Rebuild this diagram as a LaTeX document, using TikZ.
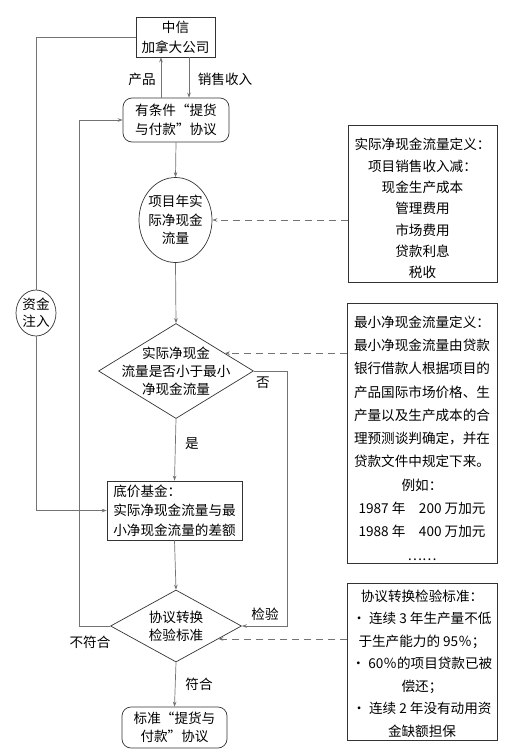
\documentclass[tikz,border=0pt]{standalone}
\usepackage{fontspec}
\setmainfont{Noto Sans CJK SC}
\usetikzlibrary{shapes.geometric,arrows.meta}
\tikzset{
  box/.style={draw=black!80, line width=0.7pt, inner sep=0pt, align=center},
  conn/.style={draw=black!55, line width=0.7pt},
  arr/.style={conn, -{Stealth[length=5pt,width=3.6pt]}},
  dashconn/.style={arr, dash pattern=on 7pt off 5pt},
  lbl/.style={inner sep=0pt},
  f/.style={font=\fontsize{13.6}{#1}\selectfont}
}
\begin{document}
\begin{tikzpicture}[x=1pt,y=-1pt,f=19]
\useasboundingbox (0,0) rectangle (511,750);

% main chain
\node[box, f=20, minimum width=79, minimum height=40] (citic) at (175.5,37) {中信\\加拿大公司};
\node[box, f=19, rounded corners=9pt, minimum width=106, minimum height=44] (agree1) at (176,120) {有条件“提货\\与付款”协议};
\node[draw=black!80, line width=0.7pt, ellipse, minimum width=73, minimum height=85, inner sep=0pt] (circ) at (175.5,220) {};
\node[lbl, f=18.5, align=center] (circt) at (circ) {项目年实\\际净现金\\流量};
\node[draw=black!80, line width=0.7pt, diamond, minimum width=155, minimum height=95, inner sep=0pt] (d1) at (176,371) {};
\node[lbl, f=18, align=center] (d1t) at (d1) {实际净现金\\流量是否小于最小\\净现金流量};
\node[box, f=19.5, align=left, minimum width=135, minimum height=59] (floor) at (174.5,510.5) {底价基金：\\实际净现金流量与最\\小净现金流量的差额};
\node[draw=black!80, line width=0.7pt, diamond, minimum width=131, minimum height=72, inner sep=0pt] (d2) at (176,626) {};
\node[lbl, f=18, align=center] (d2t) at (d2) {协议转换\\检验标准};
\node[box, f=18.5, rounded corners=9pt, minimum width=105, minimum height=41] (final) at (174.5,727.5) {标准“提货与\\付款”协议};
\node[draw=black!80, line width=0.7pt, ellipse, minimum width=40, minimum height=46, inner sep=0pt] (inj) at (36,313) {};
\node[lbl, f=16.6, align=center] (injt) at (inj) {资金\\注入};

% definition boxes
\node[box, minimum width=149, minimum height=157] (def1) at (422.5,203.5) {};
\node[lbl, f=21.3, align=center, yshift=-5pt] (def1t) at (def1)
  {实际净现金流量定义：\\项目销售收入减：\\现金生产成本\\管理费用\\市场费用\\贷款利息\\税收};
\node[box, minimum width=150, minimum height=260] (def2) at (422,433) {};
\node[lbl, f=23.3, align=center, yshift=-5pt] (def2t) at (def2)
  {最小净现金流量定义：\\最小净现金流量由贷款\\银行借款人根据项目的\\产品国际市场价格、生\\产量以及生产成本的合\\理预测谈判确定，并在\\贷款文件中规定下来。\\例如：\\1987 年\quad 200 万加元\\1988 年\quad 400 万加元\\……};
\node[box, minimum width=150, minimum height=157] (def3) at (422,661.5) {};
\node[lbl, f=22.5, align=center, yshift=-2pt] (def3t) at (def3)
  {协议转换检验标准：\\· 连续 3 年生产量不低\\于生产能力的 95％；\\· 60％的项目贷款已被\\偿还；\\· 连续 2 年没有动用资\\金缺额担保};

% labels
\node[lbl] (l1) at (142,79) {产品};
\node[lbl] (l2) at (225,79) {销售收入};
\node[lbl] (l3) at (263,383) {否};
\node[lbl] (l4) at (192,444) {是};
\node[lbl] (l5) at (265,614) {检验};
\node[lbl] (l6) at (90,642) {不符合};
\node[lbl] (l7) at (199,684) {符合};

% connectors
\draw[arr] ([xshift=-15pt]agree1.north) -- ([xshift=-15pt]agree1.north |- citic.south);
\draw[arr] ([xshift=13pt]agree1.north |- citic.south) -- ([xshift=13pt]agree1.north);
\draw[arr] (agree1.south) -- (circ.north);
\draw[arr] (circ.south) -- (d1.north);
\draw[arr] (d1.south) -- (floor.north);
\draw[arr] (floor.south) -- (d2.north);
\draw[arr] (d2.south) -- (final.north);
\draw[conn] (citic.west) -| (inj.north);
\draw[arr] (inj.south) |- (floor.west);
\draw[arr] (d1.east) -- ++(33,0) |- (d2.east);
\draw[arr] (d2.west) -- ++(-31,0) |- (agree1.west);
\draw[dashconn] (def1.west |- circ.east) -- (circ.east);
\draw[dashconn] (d1.20 -| def2.west) -- (d1.20);
\draw[dashconn] (d2.-17 -| def3.west) -- (d2.-17);
\end{tikzpicture}
\end{document}
